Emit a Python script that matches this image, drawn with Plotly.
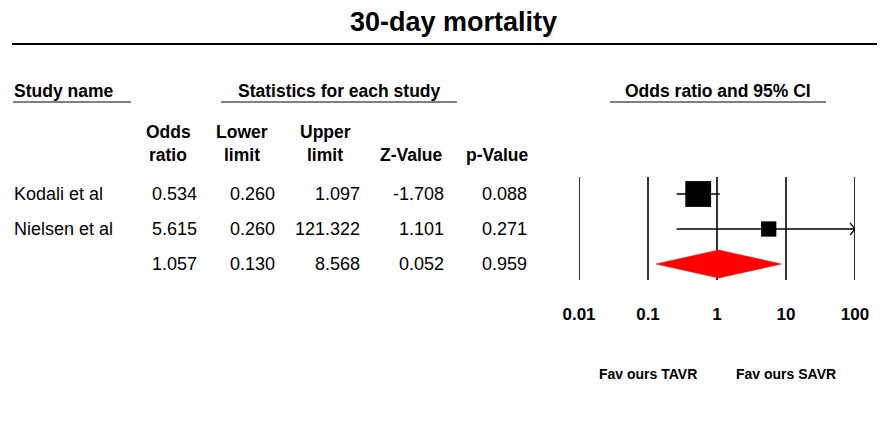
import math
import plotly.graph_objects as go

# ---------------- data ----------------
chart_title = "30-day mortality"
study_names = ["Kodali et al", "Nielsen et al", ""]
odds_ratio = [0.534, 5.615, 1.057]
lower_limit = [0.260, 0.260, 0.130]
upper_limit = [1.097, 121.322, 8.568]
z_value = [-1.708, 1.101, 0.052]
p_value = [0.088, 0.271, 0.959]
study_weight = [0.74, 0.26]          # relative weights (square size), estimated
is_summary = [False, False, True]
tick_values = [0.01, 0.1, 1, 10, 100]
tick_labels = ["0.01", "0.1", "1", "10", "100"]
favours_labels = ["Fav ours TAVR", "Fav ours SAVR"]
favours_values = [0.1, 10]
section_headers = ["Study name", "Statistics for each study", "Odds ratio and 95% CI"]
column_headers = ["Odds<br>ratio", "Lower<br>limit", "Upper<br>limit", "Z-Value", "p-Value"]

# ---------------- layout constants ----------------
W, H = 888, 423
OFF = 8  # page body margin compensation
FONT = "Liberation Sans, Arial, sans-serif"
first_row_y = 194
row_gap = 35
axis_min, axis_max = 0.01, 100
forest_left_px, forest_right_px = 579, 855
col_right_px = [199, 277, 362, 446, 529]
col_header_center_px = [168, 242, 325, 411, 497]

rows_y = [first_row_y + i * row_gap for i in range(len(study_names))]

fig = go.Figure()

# vertical reference lines of forest plot
vx, vy = [], []
line_top = rows_y[0] - 17
line_bot = rows_y[-1] + 16
for v in tick_values:
    vx += [v, v, None]
    vy += [line_top, line_bot, None]
fig.add_trace(go.Scatter(x=vx, y=vy, xaxis="x2", yaxis="y", mode="lines",
                         line=dict(color="black", width=1.6), hoverinfo="skip",
                         showlegend=False))

# confidence intervals and squares
for i in range(len(study_names)):
    if is_summary[i]:
        continue
    y = rows_y[i]
    hi = min(upper_limit[i], axis_max)
    fig.add_trace(go.Scatter(x=[lower_limit[i], hi], y=[y, y], xaxis="x2", yaxis="y",
                             mode="lines", line=dict(color="black", width=1.4),
                             hoverinfo="skip", showlegend=False))
    if upper_limit[i] > axis_max:
        back = axis_max / 10 ** 0.07
        fig.add_trace(go.Scatter(x=[back, axis_max, back], y=[y - 6, y, y + 6],
                                 xaxis="x2", yaxis="y", mode="lines",
                                 line=dict(color="black", width=1.2),
                                 hoverinfo="skip", showlegend=False))
    fig.add_trace(go.Scatter(x=[odds_ratio[i]], y=[y], xaxis="x2", yaxis="y",
                             mode="markers",
                             marker=dict(symbol="square", color="black",
                                         size=30 * math.sqrt(study_weight[i]),
                                         line=dict(width=0)),
                             hoverinfo="skip", showlegend=False))

# summary diamond
for i in range(len(study_names)):
    if not is_summary[i]:
        continue
    y = rows_y[i]
    h = 14
    fig.add_trace(go.Scatter(
        x=[lower_limit[i], odds_ratio[i], upper_limit[i], odds_ratio[i], lower_limit[i]],
        y=[y, y - h, y, y + h, y], xaxis="x2", yaxis="y", mode="lines",
        fill="toself", fillcolor="#ff0000", line=dict(color="#ff0000", width=0.5),
        hoverinfo="skip", showlegend=False))

annotations = []


def txt(x, y, text, size, bold=False, xanchor="center", xref="x"):
    annotations.append(dict(
        x=x, y=y, xref=xref, yref="y", text=("<b>%s</b>" % text) if bold else text,
        showarrow=False, xanchor=xanchor, yanchor="middle",
        font=dict(family=FONT, size=size, color="black")))


# title
txt(453, 22, chart_title, 27, bold=True)

# section headers
txt(12, 91, section_headers[0], 17.5, bold=True, xanchor="left")
txt(339, 91, section_headers[1], 17.5, bold=True)
txt(718, 91, section_headers[2], 17.5, bold=True)

# column headers
for j, hdr in enumerate(column_headers):
    if "<br>" in hdr:
        top, bot = hdr.split("<br>")
        txt(col_header_center_px[j], 132, top, 17.5, bold=True)
        txt(col_header_center_px[j], 155, bot, 17.5, bold=True)
    else:
        txt(col_header_center_px[j], 155, hdr, 17.5, bold=True)

# table rows
columns = [odds_ratio, lower_limit, upper_limit, z_value, p_value]
for i, name in enumerate(study_names):
    y = rows_y[i]
    if name:
        txt(12, y, name, 18, xanchor="left")
    for j, col in enumerate(columns):
        txt(col_right_px[j], y, "%.3f" % col[i], 18, xanchor="right")

# favours labels (placed on the log axis)
for v, lab in zip(favours_values, favours_labels):
    txt(math.log10(v), 374, lab, 14, bold=True, xref="x2")

shapes = [
    dict(type="line", xref="x", yref="y", x0=12, x1=877, y0=44, y1=44,
         line=dict(color="black", width=2)),
    dict(type="line", xref="x", yref="y", x0=13, x1=131, y0=102, y1=102,
         line=dict(color="black", width=1)),
    dict(type="line", xref="x", yref="y", x0=221, x1=457, y0=102, y1=102,
         line=dict(color="black", width=1)),
    dict(type="line", xref="x", yref="y", x0=610, x1=826, y0=102, y1=102,
         line=dict(color="black", width=1)),
]

fig.update_layout(
    width=W, height=H,
    autosize=False,
    margin=dict(l=0, r=0, t=0, b=0, pad=0, autoexpand=False),
    paper_bgcolor="white", plot_bgcolor="white",
    showlegend=False,
    xaxis=dict(range=[OFF, W + OFF], visible=False, domain=[0, 1], fixedrange=True,
               automargin=False),
    yaxis=dict(range=[H + OFF, OFF], visible=False, domain=[0, 1], fixedrange=True,
               automargin=False),
    xaxis2=dict(type="log", range=[math.log10(axis_min), math.log10(axis_max)],
                domain=[(forest_left_px - OFF) / W, (forest_right_px - OFF) / W],
                anchor="free", position=(H - (302 - OFF)) / H,
                tickvals=tick_values, ticktext=tick_labels,
                tickfont=dict(family=FONT, size=17, color="black", weight="bold"),
                showgrid=False, zeroline=False, showline=False, ticks="",
                automargin=False, fixedrange=True),
    annotations=annotations,
    shapes=shapes,
)

fig.write_html("out.html", config={"responsive": False})
